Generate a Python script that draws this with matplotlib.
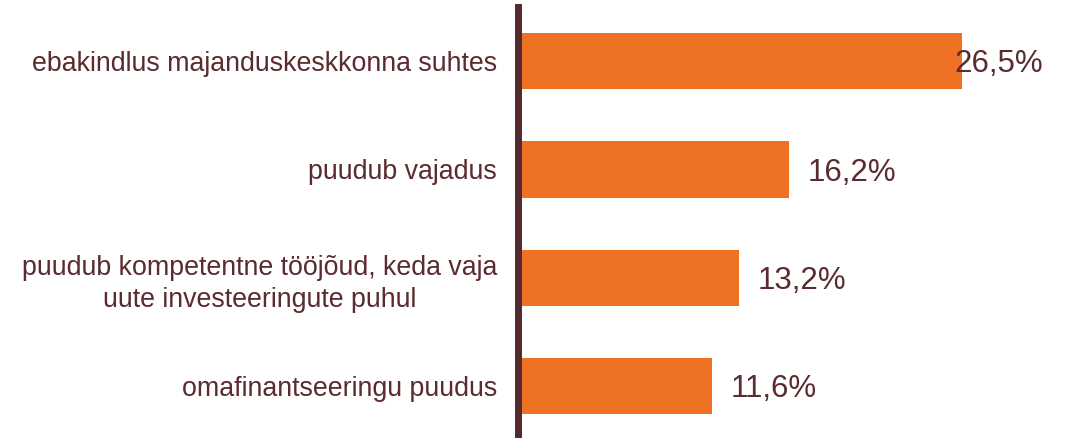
import matplotlib
matplotlib.use("Agg")
import matplotlib.pyplot as plt

# Data
categories = [
    "ebakindlus majanduskeskkonna suhtes",
    "puudub vajadus",
    "puudub kompetentne tööjõud, keda vaja\nuute investeeringute puhul",
    "omafinantseeringu puudus",
]
values = [26.5, 16.2, 13.2, 11.6]
value_labels = ["26,5%", "16,2%", "13,2%", "11,6%"]

bar_color = "#EE7124"
text_color = "#5A2B2F"
axis_color = "#522A2D"

plt.rcParams["font.family"] = ["Liberation Sans", "DejaVu Sans"]

fig = plt.figure(figsize=(10.69, 4.38), dpi=100)
ax = fig.add_axes([518 / 1069, 0.0, 1 - 518 / 1069, 1 - 7 / 438])

y = list(range(len(categories)))
ax.barh(y, values, height=0.52, color=bar_color)

ax.set_xlim(0, 32.9)
ax.set_ylim(3.48, -0.5)

ax.set_yticks(y)
ax.set_yticklabels(categories, fontsize=19.3, color=text_color, linespacing=1.3,
                   multialignment="center")
ax.tick_params(axis="y", length=0, pad=15)
ax.set_xticks([])

for s in ["top", "right", "bottom"]:
    ax.spines[s].set_visible(False)
ax.spines["left"].set_color(axis_color)
ax.spines["left"].set_linewidth(5)

# value labels; the longest one is pulled back inside the figure
for yi, v, lab in zip(y, values, value_labels):
    if v == max(values):
        ax.annotate(lab, xy=(0.953, yi), xycoords=("axes fraction", "data"),
                    xytext=(0, -8), textcoords="offset points",
                    ha="right", va="baseline", fontsize=22.5, color=text_color)
    else:
        ax.annotate(lab, xy=(v, yi), xytext=(13, -8), textcoords="offset points",
                    ha="left", va="baseline", fontsize=22.5, color=text_color)

fig.savefig("out.png", dpi=100)
